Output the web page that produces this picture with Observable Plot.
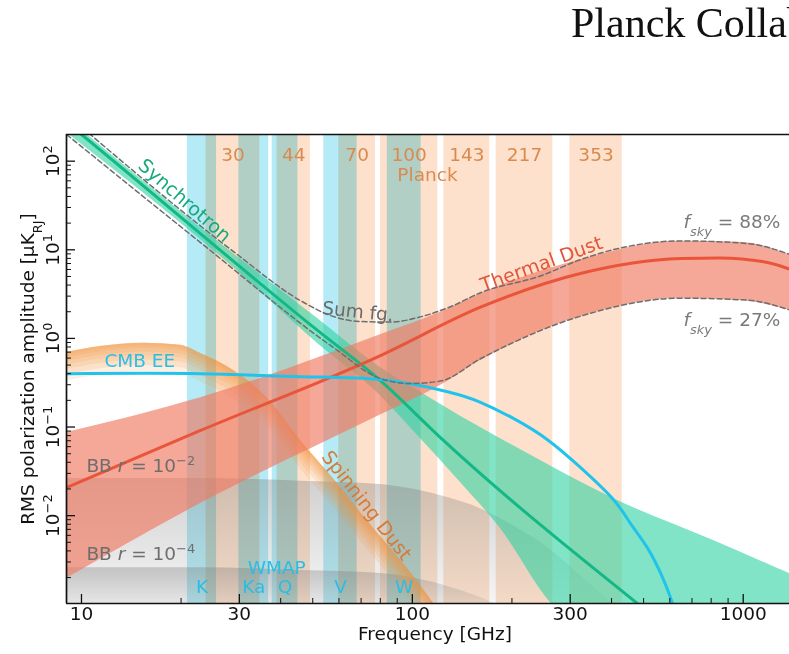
<!DOCTYPE html>
<html>
<head>
<meta charset="utf-8">
<script src="https://cdn.jsdelivr.net/npm/d3@7"></script>
<script src="https://cdn.jsdelivr.net/npm/@observablehq/plot@0.6"></script>
<style>
  html, body { margin:0; padding:0; background:#fff; width:789px; height:654px; overflow:hidden; }
  #title { position:relative; width:789px; height:100px; overflow:hidden; }
  #title span { position:absolute; left:571px; top:2px; font-family:"Liberation Serif","DejaVu Serif",serif; font-size:42px; line-height:42px; white-space:nowrap; color:#111; }
  #chart svg { display:block; }
</style>
</head>
<body>
<div id="title"><span>Planck Collaboration</span></div>
<div id="chart"></div>
<script>
// ---------- data ----------
const planckNames = ["30","44","70","100","143","217","353"];
const planckLo = [23.8, 39.0, 59.9, 80.1, 124.5, 179.2, 299.2];
const planckHi = [34.6, 49.2, 77.4, 119.4, 171.4, 265.8, 430.8];
const wmapNames = ["K","Ka","Q","V","W"];
const wmapLo = [20.9, 29.9, 37.7, 54.0, 84.0];
const wmapHi = [25.6, 36.8, 45.1, 68.1, 106.3];

const cmbF = [9, 22.9, 45.9, 80.1, 127.7, 160.7, 202, 256, 322, 405, 456, 514, 574, 613];
const cmbV = [0.40, 0.40, 0.37, 0.343, 0.25, 0.19, 0.125, 0.072, 0.035, 0.0152, 0.0082, 0.0043, 0.0019, 0.0010];

const syncF = [9.01, 10, 51.7, 80.1, 121.6, 482];
const syncV = [275, 200, 1.23, 0.334, 0.0760, 0.0010];
const syncBandF = [9.01, 28.8, 51.7, 80.1, 105.8, 139.8, 184.7, 261.6, 405.5, 813, 1380];
const syncUpperV = [311, 9.07, 1.675, 0.469, 0.247, 0.1326, 0.0739, 0.0363, 0.0156, 0.00523, 0.00222];
const syncLowerV = [210, 6.30, 0.875, 0.226, 0.0741, 0.0236, 0.00714, 0.00104, 0.0003, 0.0003, 0.0003];

const dustF = [9.01, 22.9, 80.1, 160.7, 322, 646, 850, 1184, 1380];
const dustV = [0.0207, 0.0914, 0.641, 2.25, 5.40, 7.96, 8.1, 7.2, 6.06];
const dustBandF = [9.01, 22.9, 80.1, 121.6, 160.7, 322, 646, 981, 1380];
const dustUpperV = [0.0866, 0.214, 1.1, 1.97, 3.2, 7.7, 12.5, 12.2, 8.73];
const dustLowerV = [0.00195, 0.01368, 0.1364, 0.294, 0.562, 1.765, 2.82, 2.67, 2.09];

const sum88F = [9.26, 28.8, 45.9, 57.8, 69.7, 85.9, 105.8, 130.4, 160.7, 245, 322, 646, 1030, 1380];
const sum88V = [311, 9.55, 2.67, 1.765, 1.549, 1.53, 1.75, 2.28, 3.28, 5.1, 7.75, 12.6, 11.77, 8.9];
const sum27F = [8.64, 22.9, 57.8, 80.1, 98.7, 121.6, 160.7, 322.3, 646.4, 1030, 1380];
const sum27V = [227.5, 12.07, 0.788, 0.352, 0.31, 0.33, 0.59, 1.78, 2.84, 2.7, 2.1];

const spinF = [9.01, 11.4, 15.4, 19.9, 22.9, 28.8, 36.5, 45.9, 56.6, 69.7, 85.9, 98.7, 115.9];
const spinV = [0.693, 0.809, 0.882, 0.837, 0.675, 0.434, 0.2095, 0.0703, 0.0283, 0.0108, 0.00425, 0.00228, 0.00102];

const bb2F = [9.01, 22.9, 45.9, 80.1, 127.7, 160.7, 202, 256, 322, 405];
const bb2V = [0.0262, 0.0262, 0.0245, 0.0224, 0.0160, 0.0120, 0.0077, 0.0044, 0.0021, 0.00098];
const bb4F = [9.01, 22.9, 45.9, 80.1, 127.7, 160.7, 202];
const bb4V = [0.00259, 0.00259, 0.0024, 0.00222, 0.00159, 0.00119, 0.00077];

const xTicks = [10, 30, 100, 300, 1000];
const xTickLabels = ["10", "30", "100", "300", "1000"];
const yTicks = [0.01, 0.1, 1, 10, 100];
const yTickLabels = ["10^−2", "10^−1", "10^0", "10^1", "10^2"];

// ---------- helpers ----------
const rows = (fs, vs) => fs.map((f, i) => ({f, v: vs[i]}));
const bandRows = (fs, a, b) => fs.map((f, i) => ({f, a: a[i], b: b[i]}));
const chans = (names, lo, hi) => names.map((n, i) => ({name: n, lo: lo[i], hi: hi[i], mid: Math.sqrt(lo[i] * hi[i])}));
const planck = chans(planckNames, planckLo, planckHi);
const wmap = chans(wmapNames, wmapLo, wmapHi);

const xDomain = [9.01, 1380];
const yDomain = [0.00102, 200];
const FW = 723, FH = 469;
const xMinor = [];
for (const e of [1, 2]) for (let k = 2; k <= 9; k++) if (k !== 3) xMinor.push(k * 10 ** e);
const yMinor = [];
for (let e = -3; e <= 2; e++) for (let k = 2; k <= 9; k++) { const v = k * 10 ** e; if (v > yDomain[0] && v < yDomain[1]) yMinor.push(v); }

const FS = 18.5;
const spinLayers = [0.03, 0.06, 0.1, 0.14, 0.19, 0.25, 0.32].map(d =>
  Plot.areaY(rows(spinF, spinV), {x: "f", y1: r => r.v / Math.pow(10, d), y2: "v", fill: "#f2953f", fillOpacity: 0.15, curve: "monotone-x", clip: true}));

const txt = (s, o) => Plot.text([s], {text: d => d, fontSize: FS, ...o});

const svg0 = Plot.plot({
  width: 789, height: 554,
  marginTop: 34, marginBottom: 51, marginLeft: 66, marginRight: 0,
  x: {type: "log", domain: xDomain, axis: null},
  y: {type: "log", domain: yDomain, axis: null},
  style: {fontFamily: "DejaVu Sans", background: "white", overflow: "visible"},
  marks: [
    Plot.rect(planck, {x1: "lo", x2: "hi", fill: "#fde1cc"}),
    Plot.rect(wmap, {x1: "lo", x2: "hi", fill: "#b4ebf6", mixBlendMode: "multiply"}),
    Plot.areaY(rows(bb2F, bb2V), {x: "f", y1: 0.0009, y2: "v", fill: "url(#bbGrad)", curve: "monotone-x", clip: true}),
    Plot.areaY(rows(bb4F, bb4V), {x: "f", y1: 0.0009, y2: "v", fill: "url(#bbGrad)", curve: "monotone-x", clip: true}),
    ...spinLayers,
    Plot.areaY(bandRows(syncBandF, syncLowerV, syncUpperV), {x: "f", y1: "a", y2: "b", fill: "#2fd2a1", fillOpacity: 0.6, curve: "monotone-x", clip: true}),
    Plot.areaY(bandRows(dustBandF, dustLowerV, dustUpperV), {x: "f", y1: "a", y2: "b", fill: "#f07a62", fillOpacity: 0.66, curve: "monotone-x", clip: true}),
    Plot.line(rows(syncF, syncV), {x: "f", y: "v", stroke: "#14b884", strokeWidth: 3, curve: "monotone-x", clip: true}),
    Plot.line(rows(dustF, dustV), {x: "f", y: "v", stroke: "#e9553a", strokeWidth: 3, curve: "monotone-x", clip: true}),
    Plot.line(rows(cmbF, cmbV), {x: "f", y: "v", stroke: "#22c3ea", strokeWidth: 3, curve: "natural", clip: true}),
    Plot.line(rows(sum88F, sum88V), {x: "f", y: "v", stroke: "#6e6e6e", strokeWidth: 1.5, strokeDasharray: "5,3", curve: "monotone-x", clip: true}),
    Plot.line(rows(sum27F, sum27V), {x: "f", y: "v", stroke: "#6e6e6e", strokeWidth: 1.5, strokeDasharray: "5,3", curve: "monotone-x", clip: true}),
    // frame (left, top, bottom) and inward ticks
    Plot.ruleX([xDomain[0]], {stroke: "#111", strokeWidth: 1.7}),
    Plot.ruleY([yDomain[0], yDomain[1]], {stroke: "#111", strokeWidth: 1.7}),
    Plot.ruleX(xTicks, {x: d => d, insetTop: FH - 9, stroke: "#111", strokeWidth: 1.3}),
    Plot.ruleX(xMinor, {x: d => d, insetTop: FH - 5, stroke: "#111", strokeWidth: 1}),
    Plot.ruleY(yTicks, {y: d => d, insetRight: FW - 9, stroke: "#111", strokeWidth: 1.3}),
    Plot.ruleY(yMinor, {y: d => d, insetRight: FW - 5, stroke: "#111", strokeWidth: 1}),
    Plot.text(xTicks, {x: d => d, text: (d, i) => xTickLabels[i], frameAnchor: "bottom", dy: 16, fontSize: FS, fill: "#111"}),
    Plot.text(yTicks, {y: d => d, text: (d, i) => yTickLabels[i], frameAnchor: "left", textAnchor: "middle", dx: -13, rotate: -90, fontSize: FS, fill: "#111"}),
    txt("Frequency [GHz]", {frameAnchor: "bottom", dy: 36, dx: 7, fill: "#111"}),
    txt("RMS polarization amplitude [μK_RJ]", {frameAnchor: "left", textAnchor: "middle", dx: -38, rotate: -90, fill: "#111"}),
    // band labels
    Plot.text(planck, {x: "mid", text: "name", frameAnchor: "top", dy: 13, fontSize: FS, fill: "#d98a4e"}),
    txt("Planck", {x: 111.1, frameAnchor: "top", dy: 33, fill: "#d98a4e"}),
    Plot.text(wmap, {x: "mid", text: "name", frameAnchor: "bottom", dy: -11, fontSize: FS, fill: "#2bbde4"}),
    txt("WMAP", {x: 38.9, frameAnchor: "bottom", dy: -30, fill: "#2bbde4"}),
    // component labels
    txt("Synchrotron", {x: 20.5, y: 35.9, rotate: 41, fill: "#17a97b", fontSize: 19}),
    txt("Sum fg.", {x: 53.5, y: 2.2, textAnchor: "start", rotate: 6, fill: "#6a6a6a"}),
    txt("Thermal Dust", {x: 245.7, y: 6.9, rotate: -20, fill: "#e2553a", fontSize: 19}),
    txt("fsky88", {x: 659.9, y: 20.3, textAnchor: "start", fill: "#7a7a7a"}),
    txt("fsky27", {x: 659.9, y: 1.59, textAnchor: "start", fill: "#7a7a7a"}),
    txt("CMB EE", {x: 11.73, y: 0.562, textAnchor: "start", fill: "#2bbfe5"}),
    txt("Spinning Dust", {x: 72.7, y: 0.013, rotate: 52, fill: "#d57b37", fontSize: 19}),
    txt("BB2", {x: 10.35, y: 0.0367, textAnchor: "start", fill: "#6e6e6e"}),
    txt("BB4", {x: 10.35, y: 0.00373, textAnchor: "start", fill: "#6e6e6e"})
  ]
});

const svg = svg0.tagName.toLowerCase() === "svg" ? svg0 : svg0.querySelector("svg");
const defs = d3.select(svg).insert("defs", ":first-child");
const gr = defs.append("linearGradient").attr("id", "bbGrad").attr("x1", 0).attr("x2", 0).attr("y1", 0).attr("y2", 1);
gr.append("stop").attr("offset", 0).attr("stop-color", "#7c7c7c").attr("stop-opacity", 0.36);
gr.append("stop").attr("offset", 1).attr("stop-color", "#7c7c7c").attr("stop-opacity", 0.06);

// rich text (italic, sub/superscripts)
const NS = "http://www.w3.org/2000/svg";
function setRich(t, segs) {
  t.textContent = "";
  for (const s of segs) {
    const ts = document.createElementNS(NS, "tspan");
    ts.textContent = s.t;
    if (s.i) ts.setAttribute("font-style", "italic");
    if (s.sup) { ts.setAttribute("font-size", "70%"); ts.setAttribute("baseline-shift", "super"); }
    if (s.sub) { ts.setAttribute("font-size", "70%"); ts.setAttribute("baseline-shift", "sub"); }
    t.appendChild(ts);
  }
}
const rich = {
  "fsky88": [{t: "f", i: 1}, {t: "sky", i: 1, sub: 1}, {t: " = 88%"}],
  "fsky27": [{t: "f", i: 1}, {t: "sky", i: 1, sub: 1}, {t: " = 27%"}],
  "BB2": [{t: "BB "}, {t: "r", i: 1}, {t: " = 10"}, {t: "−2", sup: 1}],
  "BB4": [{t: "BB "}, {t: "r", i: 1}, {t: " = 10"}, {t: "−4", sup: 1}],
  "RMS polarization amplitude [μK_RJ]": [{t: "RMS polarization amplitude [μK"}, {t: "RJ", sub: 1}, {t: "]"}]
};
svg.querySelectorAll("text").forEach(t => {
  const c = t.textContent;
  if (rich[c]) setRich(t, rich[c]);
  else if (/^10\^/.test(c)) setRich(t, [{t: "10"}, {t: c.slice(3), sup: 1}]);
});

document.getElementById("chart").appendChild(svg0);
</script>
</body>
</html>
